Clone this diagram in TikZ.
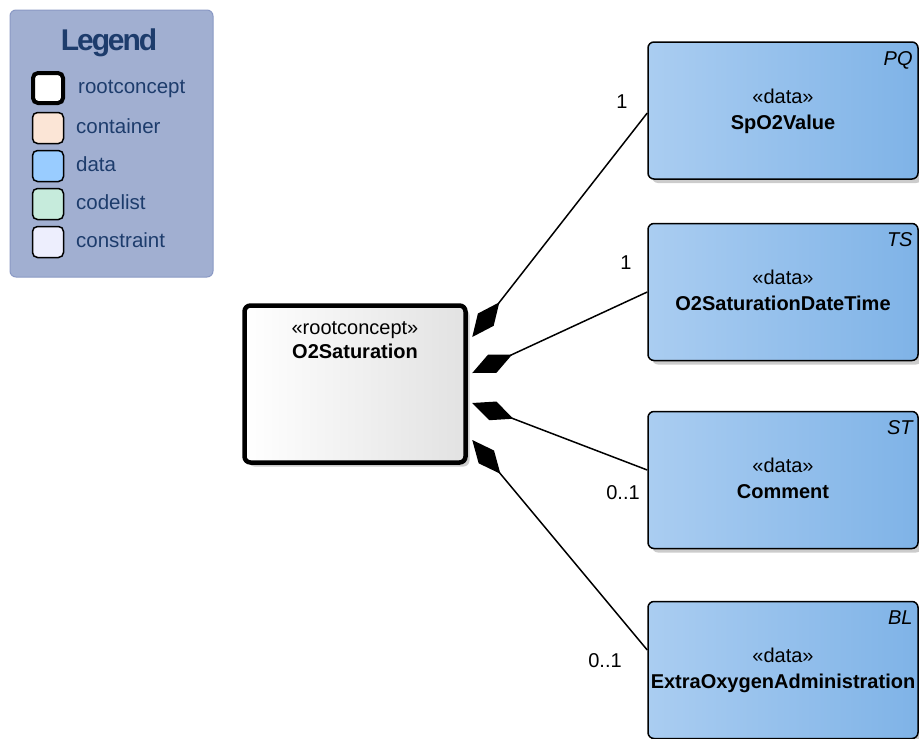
\documentclass[tikz,border=0pt]{standalone}
\usepackage{fontspec}
\setmainfont{Liberation Sans}
\newfontfamily\legendtitlefont[LetterSpace=-7]{Liberation Sans}
\usetikzlibrary{calc,arrows.meta,shadows}

\definecolor{legendfill}{HTML}{A1AFD1}
\definecolor{legenddraw}{HTML}{8A99C4}
\definecolor{legendtext}{HTML}{1D3C6C}
\definecolor{containerfill}{HTML}{FBE5D6}
\definecolor{datafill}{HTML}{99CCFF}
\definecolor{codelistfill}{HTML}{C6EBDC}
\definecolor{constraintfill}{HTML}{EDEEFD}
\definecolor{dataleft}{HTML}{AACDF1}
\definecolor{dataright}{HTML}{7FB3E7}
\definecolor{rootright}{HTML}{E2E2E2}

\def\diagfont{\fontsize{20}{24}\selectfont}

\tikzset{
	boxshadow/.style={drop shadow={shadow xshift=4pt, shadow yshift=-4pt, fill=black!20, opacity=1}},
	rootbox/.style={draw=black, line width=4.5pt, rounded corners=6pt, minimum width=221pt, minimum height=157pt, left color=white, right color=rootright, boxshadow},
	databox/.style={draw=black, line width=1.5pt, rounded corners=6pt, minimum width=270pt, minimum height=137pt, left color=dataleft, right color=dataright, boxshadow},
	stereo/.style={font=\diagfont, inner sep=0pt, anchor=base},
	clsname/.style={font=\diagfont\bfseries, inner sep=0pt, anchor=base},
	corner/.style={font=\diagfont\itshape, inner sep=0pt, anchor=base east},
	mult/.style={font=\diagfont, inner sep=0pt, anchor=base},
	comp/.style={draw=black, line width=1.5pt, {Diamond[length=44pt, width=20pt]}-},
	legendbox/.style={draw=legenddraw, line width=1pt, fill=legendfill, rounded corners=6pt, minimum width=203pt, minimum height=267pt},
	swatch/.style={draw=black, line width=1.5pt, rounded corners=5pt, minimum width=31pt, minimum height=31pt, inner sep=0pt},
	legenditem/.style={font=\fontsize{20.5}{24}\selectfont, text=legendtext, inner sep=0pt, anchor=base west}
}

\begin{document}
\begin{tikzpicture}[x=1pt, y=-1pt]
	%%%%% START %%%%%
	\useasboundingbox (0, 0) rectangle (919, 739);
	
	% legend
	\node[legendbox] (legend) at (111.5, 143.5) {};
	\node[font=\legendtitlefont\fontsize{30}{34}\selectfont\bfseries, text=legendtext, inner sep=0pt, anchor=base] (legendtitle) at (109, 50) {Legend};
	\node[swatch, line width=4pt, minimum width=30pt, minimum height=30pt, fill=white] (swroot) at (48, 88) {};
	\node[swatch, fill=containerfill] (swcontainer) at (48, 128) {};
	\node[swatch, fill=datafill] (swdata) at (48, 166) {};
	\node[swatch, fill=codelistfill] (swcodelist) at (48, 204) {};
	\node[swatch, fill=constraintfill] (swconstraint) at (48, 242) {};
	\node[legenditem] (lroot) at (78, 93) {rootconcept};
	\node[legenditem] (lcontainer) at (76, 133) {container};
	\node[legenditem] (ldata) at (76, 171) {data};
	\node[legenditem] (lcodelist) at (76, 209) {codelist};
	\node[legenditem] (lconstraint) at (76, 247) {constraint};
	
	% root concept
	\node[rootbox] (root) at (355, 384) {};
	\node[stereo] (rootst) at ($(root.north)+(0, 31)$) {«rootconcept»};
	\node[clsname] (rootname) at ($(root.north)+(0, 55)$) {O2Saturation};
	
	% data elements
	\node[databox] (spo2) at (783, 110.5) {};
	\node[stereo] (spo2st) at ($(spo2.north)+(0, 62)$) {«data»};
	\node[clsname] (spo2name) at ($(spo2.north)+(0, 88)$) {SpO2Value};
	\node[corner] (spo2type) at ($(spo2.north east)+(-6, 24)$) {PQ};
	
	\node[databox] (o2dt) at (783, 292) {};
	\node[stereo] (o2dtst) at ($(o2dt.north)+(0, 62)$) {«data»};
	\node[clsname] (o2dtname) at ($(o2dt.north)+(0, 88)$) {O2SaturationDateTime};
	\node[corner] (o2dttype) at ($(o2dt.north east)+(-6, 24)$) {TS};
	
	\node[databox] (comment) at (783, 480) {};
	\node[stereo] (commentst) at ($(comment.north)+(0, 62)$) {«data»};
	\node[clsname] (commentname) at ($(comment.north)+(0, 88)$) {Comment};
	\node[corner] (commenttype) at ($(comment.north east)+(-6, 24)$) {ST};
	
	\node[databox] (extra) at (783, 670) {};
	\node[stereo] (extrast) at ($(extra.north)+(0, 62)$) {«data»};
	\node[clsname] (extraname) at ($(extra.north)+(0, 88)$) {ExtraOxygenAdministration};
	\node[corner] (extratype) at ($(extra.north east)+(-6, 24)$) {BL};
	
	% compositions
	\coordinate (r1) at ($(root.east)+(4.5, -47)$);
	\coordinate (r2) at ($(root.east)+(4.5, -11)$);
	\coordinate (r3) at ($(root.east)+(4.5, 19)$);
	\coordinate (r4) at ($(root.east)+(4.5, 56)$);
	\draw[comp] (r1) -- ($(spo2.west)+(0, 2.5)$);
	\draw[comp] (r2) -- (o2dt.west);
	\draw[comp] (r3) -- ($(comment.west)+(0, -10)$);
	\draw[comp] (r4) -- ($(extra.west)+(0, -20)$);
	
	\node[mult] (m1) at (622, 108) {1};
	\node[mult] (m2) at (626, 269) {1};
	\node[mult] (m3) at (623, 499) {0..1};
	\node[mult] (m4) at (605, 667) {0..1};
	%%%%% END %%%%%
\end{tikzpicture}
\end{document}
